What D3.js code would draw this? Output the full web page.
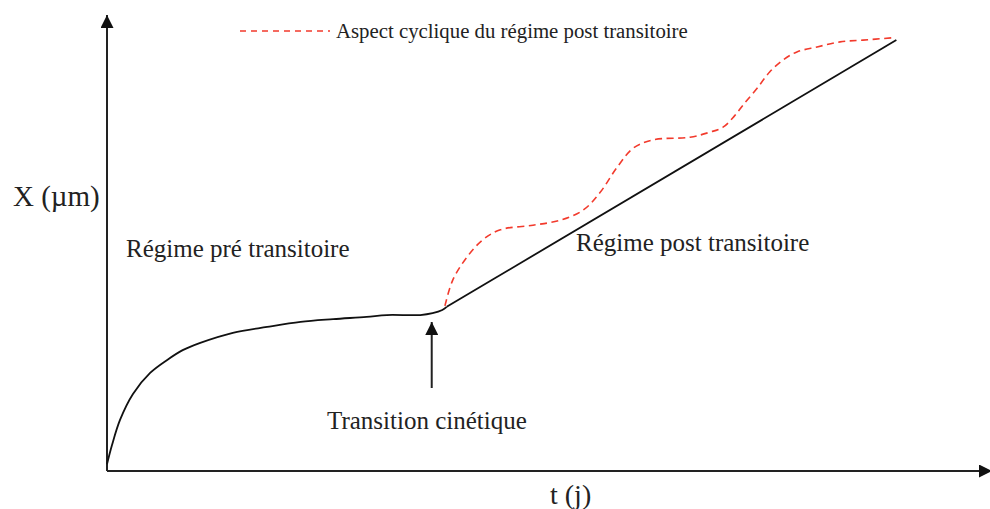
<!DOCTYPE html>
<html>
<head>
<meta charset="utf-8">
<script src="https://cdn.jsdelivr.net/npm/d3@7"></script>
<style>
  html, body { margin: 0; padding: 0; background: #fff; }
  #chart { width: 990px; height: 509px; }
  text { font-family: "Liberation Serif", "Times New Roman", serif; fill: #222; }
</style>
</head>
<body>
<div id="chart"></div>
<script>
// schematic growth curve, t (arbitrary days) vs X (arbitrary µm)
// pre-transient part (curved)
const tPre = [0, 0.57, 1.48, 2.95, 4.9, 6.8, 8.6, 10.6, 14.3, 18.2, 22.0, 25.7, 29.5, 31.8, 35.6, 37.0, 38.1, 38.6];
const xPre = [1.5, 5.7, 11.2, 16.9, 21.5, 24.3, 26.5, 28.1, 30.3, 31.6, 32.7, 33.3, 33.8, 34.2, 34.2, 34.6, 35.3, 36.0];
// post-transient part (straight)
const tPost = [38.6, 89.7];
const xPost = [36.0, 94.5];

const tCyclic = [38.4, 39.3, 40.9, 42.7, 44.7, 48.4, 51.5, 54.1, 56.0, 58.0, 59.8, 62.0, 66.25, 68.5, 70.0, 71.1, 72.3, 73.9, 75.3, 76.8, 78.4, 80.7, 83.3, 85.9, 89.3];
const xCyclic = [36.2, 41.9, 46.9, 50.7, 52.9, 53.9, 55.0, 57.2, 61.0, 66.7, 70.8, 72.6, 73.2, 74.3, 75.4, 77.4, 80.3, 84.0, 87.5, 90.1, 91.9, 93.0, 94.1, 94.5, 95.0];

const transitionT = 36.9;   // where the "transition cinétique" arrow points

const legendLabel = "Aspect cyclique du régime post transitoire";
const yLabel = "X (µm)";
const xLabel = "t (j)";
const preLabel = "Régime pré transitoire";
const postLabel = "Régime post transitoire";
const transLabel = "Transition cinétique";

const width = document.querySelector("#chart").clientWidth;
const height = document.querySelector("#chart").clientHeight;

const svg = d3.select("#chart")
    .append("svg")
    .attr("width", width)
    .attr("height", height);

const x = d3.scaleLinear().domain([0, 100]).range([107, 987]);
const y = d3.scaleLinear().domain([0, 100]).range([471, 15]);

// arrow heads
const defs = svg.append("defs");
defs.append("marker")
    .attr("id", "head")
    .attr("viewBox", "0 0 10 10")
    .attr("refX", 10).attr("refY", 5)
    .attr("markerUnits", "userSpaceOnUse")
    .attr("markerWidth", 17).attr("markerHeight", 13)
    .attr("orient", "auto")
    .append("path")
    .attr("d", "M0,0 L10,5 L0,10 Z")
    .attr("fill", "#111");

// axes
svg.append("line")
    .attr("x1", x(0)).attr("y1", y(0))
    .attr("x2", x(0)).attr("y2", y(100))
    .attr("stroke", "#222").attr("stroke-width", 2)
    .attr("marker-end", "url(#head)");

svg.append("line")
    .attr("x1", x(0)).attr("y1", y(0))
    .attr("x2", x(100) + 5).attr("y2", y(0))
    .attr("stroke", "#222").attr("stroke-width", 2)
    .attr("marker-end", "url(#head)");

const smooth = d3.line()
    .x(function(d) { return x(d[0]); })
    .y(function(d) { return y(d[1]); })
    .curve(d3.curveCatmullRom.alpha(0.5));

const straight = d3.line()
    .x(function(d) { return x(d[0]); })
    .y(function(d) { return y(d[1]); });

svg.append("path")
    .datum(d3.zip(tCyclic, xCyclic))
    .attr("d", smooth)
    .attr("fill", "none")
    .attr("stroke", "#f23a2c")
    .attr("stroke-width", 1.6)
    .attr("stroke-dasharray", "7,4.5");

svg.append("path")
    .datum(d3.zip(tPre, xPre))
    .attr("d", smooth)
    .attr("fill", "none")
    .attr("stroke", "#111")
    .attr("stroke-width", 1.8);

svg.append("path")
    .datum(d3.zip(tPost, xPost))
    .attr("d", straight)
    .attr("fill", "none")
    .attr("stroke", "#111")
    .attr("stroke-width", 1.8);

// transition arrow
svg.append("line")
    .attr("x1", x(transitionT)).attr("y1", 388)
    .attr("x2", x(transitionT)).attr("y2", 322)
    .attr("stroke", "#222").attr("stroke-width", 2)
    .attr("marker-end", "url(#head)");

// legend
svg.append("line")
    .attr("x1", 240).attr("x2", 330)
    .attr("y1", 31).attr("y2", 31)
    .attr("stroke", "#f23a2c")
    .attr("stroke-width", 1.3)
    .attr("stroke-dasharray", "6,5");

svg.append("text")
    .attr("x", 336).attr("y", 38)
    .attr("font-size", "20.8px")
    .text(legendLabel);

// labels
svg.append("text").attr("x", 13).attr("y", 206).attr("font-size", "29px").text(yLabel);
svg.append("text").attr("x", 550).attr("y", 504).attr("font-size", "28px").text(xLabel);
svg.append("text").attr("x", 126).attr("y", 257).attr("font-size", "25px").text(preLabel);
svg.append("text").attr("x", 576).attr("y", 251).attr("font-size", "25px").text(postLabel);
svg.append("text").attr("x", 327).attr("y", 429).attr("font-size", "25px").text(transLabel);
</script>
</body>
</html>
